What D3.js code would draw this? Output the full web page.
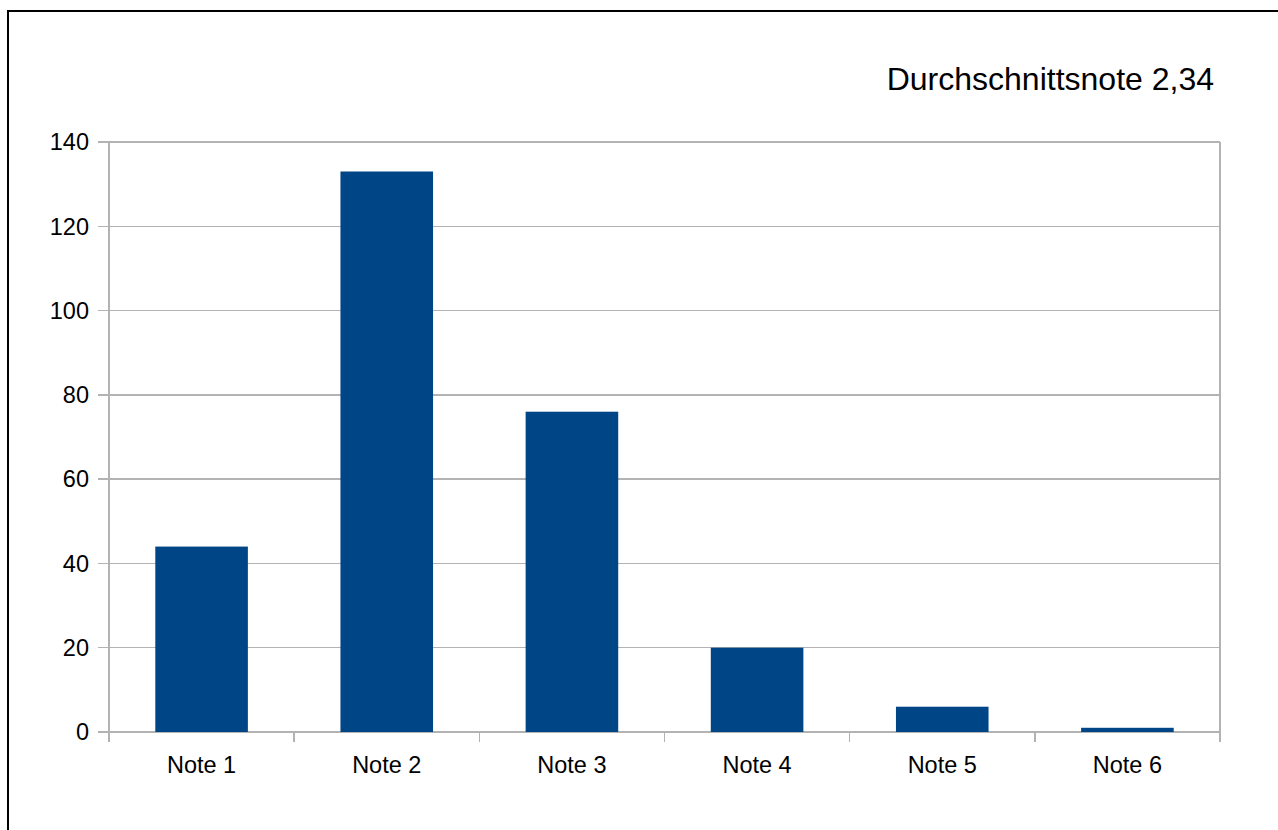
<!DOCTYPE html>
<html>
<head>
<style>
body { margin: 0; background: #fff; }
text { font-family: "Liberation Sans", Arial, sans-serif; }
.grid line, .frame line { stroke: #b3b3b3; stroke-width: 1.5; shape-rendering: crispEdges; }
.yaxis text, .xaxis text { fill: #000; font-size: 23.5px; }
</style>
</head>
<body>
<div id="chart"></div>
<script src="https://cdn.jsdelivr.net/npm/d3@7"></script>
<script>
var categories = ["Note 1", "Note 2", "Note 3", "Note 4", "Note 5", "Note 6"];
var counts = [44, 133, 76, 20, 6, 1];
var yTicks = [0, 20, 40, 60, 80, 100, 120, 140];
var title = "Durchschnittsnote 2,34";

var dimensions = { width: 1278, height: 830 };
var plot = { left: 109, right: 1220, top: 142, bottom: 732 };

var svg = d3.select("#chart").append("svg")
    .attr("width", dimensions.width)
    .attr("height", dimensions.height);

// outer frame
svg.append("rect")
    .attr("x", 8).attr("y", 11)
    .attr("width", dimensions.width + 10).attr("height", dimensions.height + 10)
    .attr("fill", "none").attr("stroke", "#000").attr("stroke-width", 2);

var x = d3.scaleBand()
    .domain(categories)
    .range([plot.left, plot.right])
    .paddingInner(0.5)
    .paddingOuter(0.25);
var y = d3.scaleLinear()
    .domain([0, 140])
    .range([plot.bottom, plot.top]);

// horizontal grid with tick stubs
var grid = svg.append("g").attr("class", "grid");
grid.selectAll("line").data(yTicks).enter().append("line")
    .attr("x1", plot.left - 11).attr("x2", plot.right)
    .attr("y1", function(d) { return y(d); })
    .attr("y2", function(d) { return y(d); });

// left and right frame lines and category separators
var step = x.step();
var bounds = d3.range(categories.length + 1).map(function(i) { return plot.left + i * step; });
var frame = svg.append("g").attr("class", "frame");
frame.append("line")
    .attr("x1", plot.left).attr("x2", plot.left)
    .attr("y1", plot.top).attr("y2", plot.bottom + 10);
frame.append("line")
    .attr("x1", plot.right).attr("x2", plot.right)
    .attr("y1", plot.top).attr("y2", plot.bottom + 10);
frame.selectAll("line.sep").data(bounds).enter().append("line")
    .attr("class", "sep")
    .attr("x1", function(d) { return d; }).attr("x2", function(d) { return d; })
    .attr("y1", plot.bottom).attr("y2", plot.bottom + 10);

// bars
svg.append("g").selectAll("rect").data(counts).enter().append("rect")
    .attr("x", function(d, i) { return x(categories[i]); })
    .attr("y", function(d) { return y(d); })
    .attr("width", x.bandwidth())
    .attr("height", function(d) { return y(0) - y(d); })
    .attr("fill", "#004586");

// y labels
svg.append("g").attr("class", "yaxis").selectAll("text").data(yTicks).enter().append("text")
    .attr("x", plot.left - 20)
    .attr("y", function(d) { return y(d); })
    .attr("dy", "0.35em")
    .attr("text-anchor", "end")
    .text(function(d) { return d; });

// x labels
svg.append("g").attr("class", "xaxis").selectAll("text").data(categories).enter().append("text")
    .attr("x", function(d) { return x(d) + x.bandwidth() / 2; })
    .attr("y", plot.bottom + 41)
    .attr("text-anchor", "middle")
    .text(function(d) { return d; });

svg.append("text")
    .attr("x", 1214).attr("y", 90)
    .attr("text-anchor", "end")
    .attr("font-size", 32)
    .attr("fill", "#000")
    .text(title);
</script>
</body>
</html>
